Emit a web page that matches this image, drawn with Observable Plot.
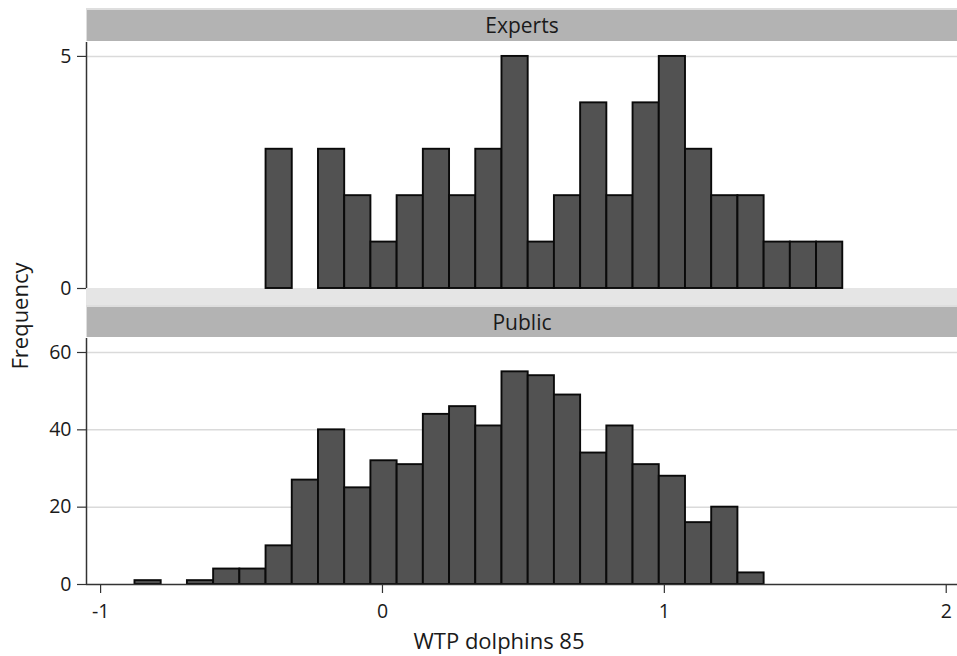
<!DOCTYPE html>
<html>
<head>
<meta charset="utf-8">
<script src="https://cdn.jsdelivr.net/npm/d3@7"></script>
<script src="https://cdn.jsdelivr.net/npm/@observablehq/plot@0.6"></script>
<style>
  body { margin: 0; background: #fff; font-family: "Open Sans", Lato, sans-serif; color: #1a1a1a; }
  #chart { position: relative; width: 957px; height: 656px; overflow: hidden; background: #fff; }
  #chart svg { position: absolute; left: 0; z-index: 1; }
  .strip { position: absolute; left: 86px; width: 871px; background: #b3b3b3; box-sizing: border-box;
           border-top: 2px solid #dedede; border-left: 1px solid #dedede;
           font-size: 21px; text-align: center; color: #1a1a1a; z-index: 0; }
  .band { position: absolute; left: 86px; width: 871px; background: #e5e5e5; z-index: 0; }
  .title { position: absolute; white-space: nowrap; font-size: 22px; color: #1a1a1a; z-index: 2; }
</style>
</head>
<body>
<div id="chart"></div>
<script>
// Histogram bins shared by both groups
const binOrigin = -0.878;
const binWidth = 0.093;

// Counts per bin, starting at binOrigin
const expertsCounts = [0, 0, 0, 0, 0, 3, 0, 3, 2, 1, 2, 3, 2, 3, 5, 1, 2, 4, 2, 4, 5, 3, 2, 2, 1, 1, 1];
const publicCounts  = [1, 0, 1, 4, 4, 10, 27, 40, 25, 32, 31, 44, 46, 41, 55, 54, 49, 34, 41, 31, 28, 16, 20, 3];

// Axis settings
const xDomain = [-1.05, 2.04];
const xTicks = [-1, 0, 1, 2];
const expertsTicks = [0, 5];
const publicTicks = [0, 20, 40, 60];
const panelNames = ["Experts", "Public"];

const fmt = d => String(d);

function toBins(counts) {
  return counts
    .map((count, i) => ({x1: binOrigin + i * binWidth, x2: binOrigin + (i + 1) * binWidth, count}))
    .filter(d => d.count > 0);
}

function panel({counts, yDomain, yTicks, height, marginTop, marginBottom, showX}) {
  return Plot.plot({
    width: 957,
    height,
    marginLeft: 86,
    marginRight: 0,
    marginTop,
    marginBottom,
    style: {background: "transparent", fontFamily: "'Open Sans', Lato, sans-serif", color: "#1a1a1a", overflow: "visible"},
    x: {domain: xDomain, axis: showX ? undefined : null},
    y: {domain: yDomain},
    marks: [
      Plot.ruleY(yTicks.filter(t => t > 0), {stroke: "#dadada", strokeWidth: 1.5}),
      Plot.rectY(toBins(counts), {x1: "x1", x2: "x2", y: "count", fill: "#525252", stroke: "#0a0a0a", strokeWidth: 1.9, inset: 0}),
      Plot.ruleX([xDomain[0]], {stroke: "#333", strokeWidth: 1.5}),
      Plot.axisY({ticks: yTicks, tickFormat: fmt, tickSize: 9, tickPadding: 6, label: null, fontSize: 19.5, stroke: "#333", strokeWidth: 1.2}),
      ...(showX ? [
        Plot.ruleY([0], {stroke: "#333", strokeWidth: 1.5}),
        Plot.axisX({ticks: xTicks, tickFormat: fmt, tickSize: 9, tickPadding: 11, label: null, fontSize: 19.5, stroke: "#333", strokeWidth: 1.2})
      ] : [])
    ]
  });
}

const chart = document.getElementById("chart");

function addDiv(cls, css, text) {
  const d = document.createElement("div");
  d.className = cls;
  Object.assign(d.style, css);
  if (text) d.textContent = text;
  chart.appendChild(d);
  return d;
}

// Panel strips and the gap between panels
addDiv("strip", {top: "8px", height: "33px", lineHeight: "31px"}, panelNames[0]);
addDiv("band", {top: "288px", height: "19px"});
addDiv("strip", {top: "305px", height: "32px", lineHeight: "30px"}, panelNames[1]);

const expertsPlot = panel({counts: expertsCounts, yDomain: [0, 5.3], yTicks: expertsTicks, height: 300, marginTop: 42, marginBottom: 12, showX: false});
expertsPlot.style.top = "0px";
chart.appendChild(expertsPlot);

const publicPlot = panel({counts: publicCounts, yDomain: [0, 63.62], yTicks: publicTicks, height: 336, marginTop: 18, marginBottom: 72, showX: true});
publicPlot.style.top = "320px";
chart.appendChild(publicPlot);

// Axis titles
addDiv("title", {left: "499px", top: "640px", transform: "translate(-50%, -50%)"}, "WTP dolphins 85");
addDiv("title", {left: "19px", top: "316px", transform: "translate(-50%, -50%) rotate(-90deg)"}, "Frequency");
</script>
</body>
</html>
